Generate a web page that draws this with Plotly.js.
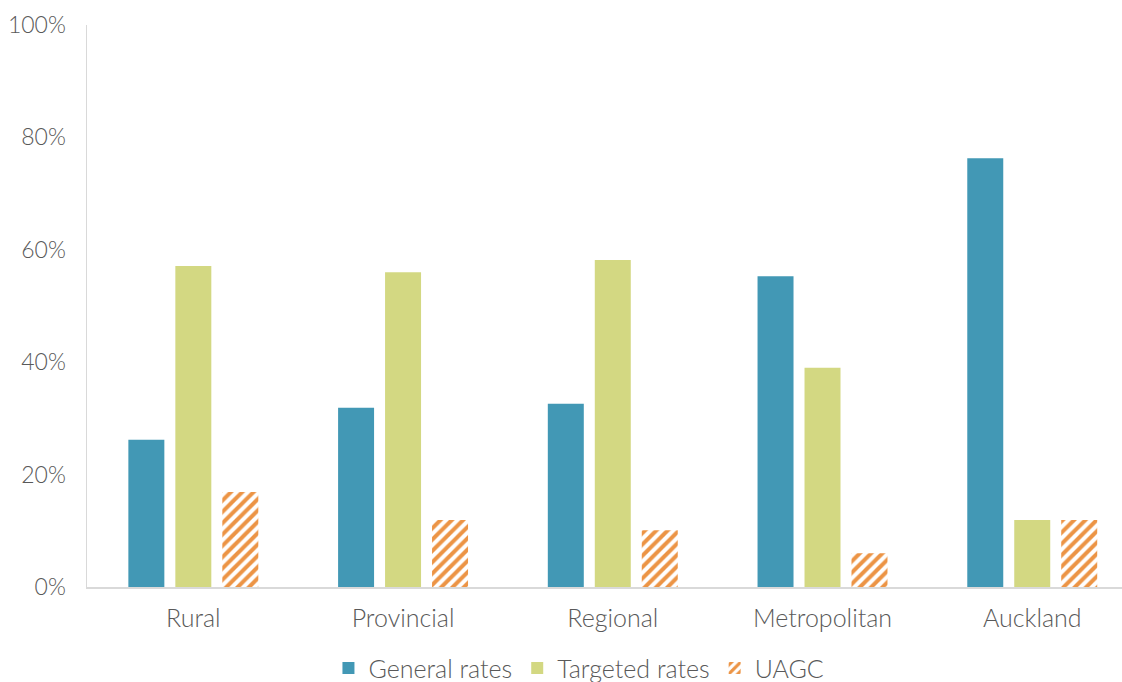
<!DOCTYPE html>
<html>
<head>
<meta charset="utf-8">
<script src="https://cdn.plot.ly/plotly-3.0.1.min.js"></script>
<style>html,body{margin:0;padding:0;background:#fff;}#chart{width:1122px;height:682px;}</style>
</head>
<body>
<div id="chart"></div>
<script>
const categories = ["Rural", "Provincial", "Regional", "Metropolitan", "Auckland"];
const generalRates = [26.2, 31.9, 32.6, 55.3, 76.3];
const targetedRates = [57.1, 56.0, 58.2, 39.0, 11.9];
const uagc = [16.9, 11.9, 10.1, 6.0, 11.9];
const tickVals = [0, 20, 40, 60, 80, 100];
const tickText = ["0%", "20%", "40%", "60%", "80%", "100%"];

const yFont = {family: "Lato, 'Open Sans', sans-serif", size: 23, color: "#595959", weight: 300};
const xFont = {family: "Lato, 'Open Sans', sans-serif", size: 25, color: "#595959", weight: 300};

const traces = [
  {type: "bar", name: "General rates", x: categories, y: generalRates, marker: {color: "#4298b5"}},
  {type: "bar", name: "Targeted rates", x: categories, y: targetedRates, marker: {color: "#d3d882"}},
  {type: "bar", name: "UAGC", x: categories, y: uagc,
   marker: {color: "#ed9b4f", pattern: {shape: "/", fgcolor: "#ec9445", bgcolor: "#ffffff", size: 8, solidity: 0.5}}}
];

const layout = {
  width: 1122, height: 682,
  margin: {l: 87, r: 0, t: 25, b: 95, autoexpand: false},
  paper_bgcolor: "#fff", plot_bgcolor: "#fff",
  font: xFont,
  barmode: "group",
  bargap: 0.328,
  bargroupgap: 0.234,
  showlegend: true,
  legend: {orientation: "h", x: 0.516, xanchor: "center", xref: "container", y: 0.02, yref: "container", yanchor: "middle",
           font: xFont, itemwidth: 30, traceorder: "normal"},
  xaxis: {range: [-0.507, 4.428], showline: true, linecolor: "#d9d9d9", linewidth: 1.5, ticks: "", showgrid: false, zeroline: false,
          tickfont: xFont, ticklabelstandoff: 8, fixedrange: true},
  yaxis: {range: [0, 100], tickvals: tickVals, ticktext: tickText, showline: true, linecolor: "#d9d9d9", linewidth: 1.5,
          showgrid: false, zeroline: false, ticks: "", tickfont: yFont, ticklabelstandoff: 15, fixedrange: true}
};

Plotly.newPlot("chart", traces, layout, {displayModeBar: false, staticPlot: true});
</script>
</body>
</html>
